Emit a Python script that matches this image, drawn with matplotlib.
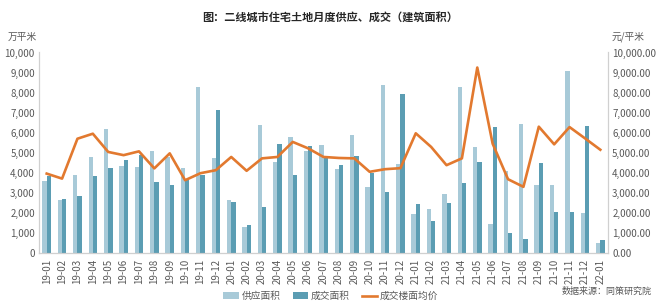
import numpy as np
import matplotlib.pyplot as plt
from matplotlib.ticker import FuncFormatter

plt.rcParams['font.family'] = ['Noto Sans CJK SC', 'DejaVu Sans']

months = ['19-01', '19-02', '19-03', '19-04', '19-05', '19-06', '19-07', '19-08', '19-09', '19-10',
          '19-11', '19-12', '20-01', '20-02', '20-03', '20-04', '20-05', '20-06', '20-07', '20-08',
          '20-09', '20-10', '20-11', '20-12', '21-01', '21-02', '21-03', '21-04', '21-05', '21-06',
          '21-07', '21-08', '21-09', '21-10', '21-11', '21-12', '22-01']
supply = [3580, 2640, 3910, 4790, 6170, 4340, 4290, 5090, 4790, 4240,
          8270, 4740, 2640, 1310, 6370, 4540, 5770, 5070, 5370, 4180,
          5870, 3300, 8400, 4420, 1940, 2190, 2940, 8280, 5290, 1440,
          4100, 6420, 3380, 3380, 9100, 2000, 500]
deal = [3830, 2670, 2850, 3830, 4260, 4630, 4880, 3550, 3380, 3630,
        3880, 7110, 2530, 1390, 2300, 5420, 3880, 5340, 4830, 4410,
        4830, 3980, 3030, 7950, 2440, 1590, 2500, 3480, 4540, 6280,
        1000, 700, 4480, 2040, 2050, 6320, 650]
price = [3960, 3710, 5700, 5950, 5040, 4880, 5070, 4220, 4970, 3630,
         3980, 4130, 4790, 4100, 4720, 4790, 5540, 5220, 4790, 4740,
         4720, 4050, 4180, 4230, 5970, 5290, 4380, 4720, 9250, 5450,
         3680, 3300, 6300, 5420, 6280, 5720, 5150]

c_supply = '#a8cad8'
c_deal = '#5b9db3'
c_line = '#e2792f'
c_text = '#595959'
c_axis = '#d0d0d0'

fig = plt.figure(figsize=(6.6, 3.05), dpi=100)
ax = fig.add_axes([39 / 660, 1 - 253 / 305, 569 / 660, 200.5 / 305])
ax2 = ax.twinx()

x = np.arange(len(months))
w = 0.28
ax.bar(x - w / 2, supply, width=w, color=c_supply, label='供应面积')
ax.bar(x + w / 2, deal, width=w, color=c_deal, label='成交面积')
ax2.plot(x, price, color=c_line, linewidth=1.9, label='成交楼面均价')

ax.set_xlim(-0.5, len(months) - 0.5)
ax.set_ylim(0, 10000)
ax2.set_ylim(0, 10000)
ax.set_yticks(np.arange(0, 10001, 1000))
ax2.set_yticks(np.arange(0, 10001, 1000))
ax.yaxis.set_major_formatter(FuncFormatter(lambda v, p: f'{v:,.0f}'))
ax2.yaxis.set_major_formatter(FuncFormatter(lambda v, p: f'{v:,.2f}'))
ax.set_xticks(x)
ax.set_xticklabels(months, rotation=90, fontsize=7, color=c_text)

for a in (ax, ax2):
    a.tick_params(axis='y', labelsize=7, labelcolor=c_text, length=0, pad=3)
    a.spines['top'].set_visible(False)
    for s in ('left', 'right', 'bottom'):
        a.spines[s].set_color(c_axis)
        a.spines[s].set_linewidth(0.8)
ax.tick_params(axis='x', length=0, pad=4)
ax.spines['bottom'].set_color('#bfbfbf')

fig.text(0.5, 1 - 17 / 305, '图：二线城市住宅土地月度供应、成交（建筑面积）', ha='center', va='center',
         fontsize=8, fontweight='bold', color='#262626')
fig.text(22 / 660, 1 - 37 / 305, '万平米', ha='center', va='center', fontsize=7, color=c_text)
fig.text(628 / 660, 1 - 37 / 305, '元/平米', ha='center', va='center', fontsize=7, color=c_text)
fig.text(652 / 660, 1 - 291 / 305, '数据来源：同策研究院', ha='right', va='center', fontsize=6.5, color=c_text)

h1, l1 = ax.get_legend_handles_labels()
h2, l2 = ax2.get_legend_handles_labels()
fig.legend(h1 + h2, l1 + l2, loc='center', bbox_to_anchor=(331 / 660, 1 - 296 / 305), ncol=3,
           frameon=False, fontsize=7, labelcolor=c_text, handlelength=1.6, handleheight=0.6,
           columnspacing=1.2, handletextpad=0.3)

fig.savefig('out.png', dpi=100)
